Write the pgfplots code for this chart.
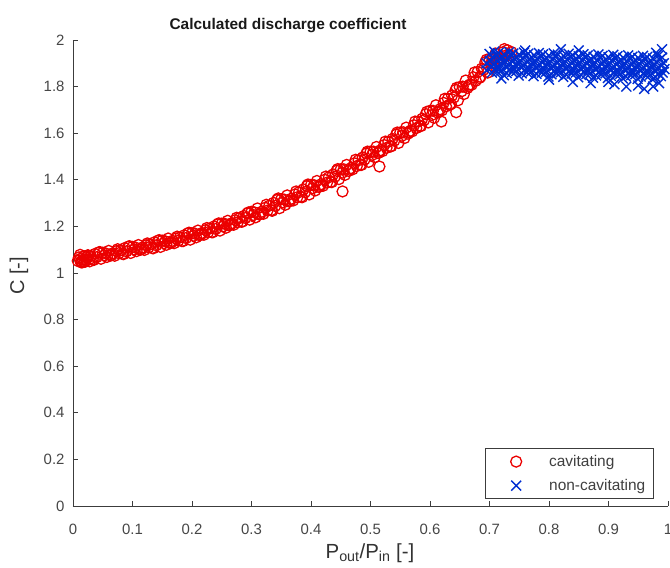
\documentclass[border=0pt]{standalone}
\usepackage{fontspec}
\setmainfont{Liberation Sans}
\usepackage{pgfplots}
\pgfplotsset{compat=1.18}
\definecolor{mred}{RGB}{235,0,0}
\definecolor{mblue}{RGB}{0,45,210}
\definecolor{axgray}{RGB}{60,60,60}
\definecolor{tickgray}{RGB}{70,70,70}
\begin{document}
\begin{tikzpicture}
\begin{axis}[
  at={(0,0)}, anchor=south west,
  scale only axis, width=595bp, height=466bp,
  xmin=0, xmax=1, ymin=0, ymax=2,
  axis x line*=bottom, axis y line*=left,
  axis line style={draw=axgray, line width=0.9bp, -},
  xtick={0,0.1,0.2,0.3,0.4,0.5,0.6,0.7,0.8,0.9,1},
  ytick={0,0.2,0.4,0.6,0.8,1,1.2,1.4,1.6,1.8,2},
  tick style={draw=axgray, line width=0.8bp},
  major tick length=5bp, tick align=inside,
  /pgf/number format/assume math mode=true,
  ticklabel style={font=\fontsize{15}{18}\selectfont, text=tickgray},
  xticklabel style={yshift=-15bp},
  yticklabel style={xshift=-5bp},
  legend style={at={(0.976,0.015)}, anchor=south east, draw=axgray, line width=0.8bp,
    inner xsep=8bp, inner ysep=1bp, row sep=0pt,
    font=\fontsize{15.5}{18}\selectfont, text=black!75, nodes={inner sep=0pt}},
  legend cell align=left,
  legend image code/.code={\path[draw=none,fill=none] (0bp,-12bp) rectangle (56bp,12bp); \draw[#1] plot coordinates {(23bp,0bp)};},
]
\addplot[only marks, mark=o, mark size=5.5bp, color=mred, mark options={line width=1.3bp}]
coordinates {
(0.008,1.052)(0.012,1.060)(0.015,1.045)(0.018,1.072)(0.022,1.055)(0.025,1.075)(0.028,1.050)(0.012,1.078)
(0.010,1.067)(0.013,1.047)(0.017,1.057)
(0.020,1.048)(0.023,1.068)(0.027,1.059)
(0.030,1.073)(0.033,1.057)(0.037,1.082)
(0.040,1.068)(0.043,1.088)(0.047,1.061)
(0.050,1.087)(0.053,1.076)(0.057,1.069)
(0.060,1.095)(0.063,1.075)(0.067,1.085)
(0.070,1.074)(0.073,1.094)(0.077,1.085)
(0.080,1.098)(0.083,1.082)(0.087,1.107)
(0.090,1.093)(0.093,1.113)(0.097,1.086)
(0.100,1.112)(0.103,1.101)(0.107,1.094)
(0.110,1.120)(0.113,1.100)(0.117,1.110)
(0.120,1.099)(0.123,1.119)(0.127,1.110)
(0.130,1.123)(0.133,1.107)(0.137,1.132)
(0.140,1.119)(0.143,1.139)(0.147,1.112)
(0.150,1.139)(0.153,1.128)(0.157,1.121)
(0.160,1.148)(0.163,1.128)(0.167,1.138)
(0.170,1.128)(0.173,1.148)(0.177,1.139)
(0.180,1.153)(0.183,1.137)(0.187,1.162)
(0.190,1.150)(0.193,1.170)(0.197,1.143)
(0.200,1.171)(0.203,1.160)(0.207,1.153)
(0.210,1.182)(0.213,1.162)(0.217,1.172)
(0.220,1.164)(0.223,1.184)(0.227,1.175)
(0.230,1.191)(0.233,1.175)(0.237,1.200)
(0.240,1.189)(0.243,1.209)(0.247,1.182)
(0.250,1.212)(0.253,1.201)(0.257,1.194)
(0.260,1.224)(0.263,1.204)(0.267,1.214)
(0.270,1.207)(0.273,1.227)(0.277,1.218)
(0.280,1.236)(0.283,1.220)(0.287,1.245)
(0.290,1.236)(0.293,1.256)(0.297,1.229)
(0.300,1.263)(0.303,1.249)(0.307,1.239)
(0.310,1.277)(0.313,1.251)(0.317,1.263)
(0.320,1.254)(0.323,1.280)(0.327,1.268)
(0.330,1.289)(0.333,1.269)(0.337,1.301)
(0.340,1.288)(0.343,1.314)(0.347,1.278)
(0.350,1.317)(0.353,1.303)(0.357,1.293)
(0.360,1.333)(0.363,1.307)(0.367,1.319)
(0.370,1.311)(0.373,1.337)(0.377,1.325)
(0.380,1.347)(0.383,1.327)(0.387,1.359)
(0.390,1.347)(0.393,1.373)(0.397,1.337)
(0.400,1.378)(0.403,1.364)(0.407,1.354)
(0.410,1.395)(0.413,1.369)(0.417,1.381)
(0.420,1.374)(0.423,1.400)(0.427,1.388)
(0.430,1.411)(0.433,1.391)(0.437,1.423)
(0.440,1.413)(0.443,1.439)(0.447,1.403)
(0.450,1.445)(0.453,1.431)(0.457,1.421)
(0.460,1.464)(0.463,1.438)(0.467,1.450)
(0.470,1.445)(0.473,1.471)(0.477,1.459)
(0.480,1.484)(0.483,1.464)(0.487,1.496)
(0.490,1.487)(0.493,1.513)(0.497,1.477)
(0.500,1.521)(0.503,1.507)(0.507,1.497)
(0.510,1.541)(0.513,1.515)(0.517,1.527)
(0.520,1.523)(0.523,1.549)(0.527,1.537)
(0.530,1.563)(0.533,1.543)(0.537,1.575)
(0.540,1.568)(0.543,1.594)(0.547,1.558)
(0.550,1.603)(0.553,1.589)(0.557,1.579)
(0.560,1.624)(0.563,1.598)(0.567,1.610)
(0.570,1.608)(0.573,1.634)(0.577,1.622)
(0.580,1.650)(0.583,1.630)(0.587,1.662)
(0.590,1.656)(0.593,1.682)(0.597,1.646)
(0.600,1.696)(0.603,1.678)(0.607,1.666)
(0.610,1.720)(0.613,1.688)(0.617,1.703)
(0.620,1.698)(0.623,1.730)(0.627,1.715)
(0.630,1.748)(0.633,1.722)(0.637,1.762)
(0.640,1.753)(0.643,1.786)(0.647,1.741)
(0.650,1.798)(0.653,1.780)(0.657,1.768)
(0.660,1.826)(0.663,1.794)(0.667,1.809)
(0.670,1.808)(0.673,1.840)(0.677,1.825)
(0.680,1.863)(0.683,1.837)(0.687,1.877)
(0.690,1.872)(0.693,1.905)(0.697,1.860)
(0.700,1.918)(0.703,1.900)(0.707,1.888)
(0.710,1.942)(0.713,1.910)(0.717,1.925)
(0.720,1.916)(0.723,1.948)(0.727,1.933)
(0.730,1.956)(0.733,1.935)(0.737,1.948)
(0.015,1.050)(0.025,1.076)(0.035,1.056)(0.045,1.090)(0.055,1.084)
(0.065,1.077)(0.075,1.102)(0.085,1.081)(0.095,1.115)(0.105,1.109)
(0.115,1.102)(0.125,1.127)(0.135,1.106)(0.145,1.141)(0.155,1.136)
(0.165,1.130)(0.175,1.156)(0.185,1.137)(0.195,1.173)(0.205,1.169)
(0.215,1.165)(0.225,1.193)(0.235,1.175)(0.245,1.213)(0.255,1.211)
(0.265,1.208)(0.275,1.237)(0.285,1.221)(0.295,1.260)(0.305,1.260)
(0.315,1.254)(0.325,1.293)(0.335,1.267)(0.345,1.320)(0.355,1.315)
(0.365,1.310)(0.375,1.350)(0.385,1.325)(0.395,1.380)(0.405,1.377)
(0.415,1.373)(0.425,1.414)(0.435,1.390)(0.445,1.446)(0.455,1.445)
(0.465,1.443)(0.475,1.486)(0.485,1.464)(0.495,1.521)(0.505,1.521)
(0.515,1.520)(0.525,1.564)(0.535,1.544)(0.545,1.603)(0.555,1.604)
(0.565,1.604)(0.575,1.650)(0.585,1.631)(0.595,1.692)(0.605,1.696)
(0.615,1.694)(0.625,1.748)(0.635,1.725)(0.645,1.795)(0.655,1.800)
(0.665,1.802)(0.675,1.861)(0.685,1.842)(0.695,1.915)(0.705,1.918)
(0.715,1.914)(0.725,1.961)
(0.453,1.350)(0.515,1.457)(0.619,1.650)(0.644,1.690)
};
\addlegendentry{cavitating}
\addplot[only marks, mark=x, mark size=7bp, color=mblue, mark options={line width=1.4bp}]
coordinates {
(0.695,1.870)(0.695,1.900)(0.720,1.835)
(0.700,1.940)(0.701,1.910)(0.703,1.885)(0.704,1.860)
(0.705,1.925)(0.706,1.895)(0.708,1.950)(0.709,1.875)
(0.710,1.899)(0.711,1.934)(0.713,1.864)(0.714,1.914)
(0.715,1.944)(0.716,1.879)(0.718,1.919)(0.719,1.894)
(0.720,1.869)(0.721,1.929)(0.723,1.904)(0.724,1.849)
(0.725,1.938)(0.726,1.908)(0.728,1.883)(0.729,1.858)
(0.730,1.923)(0.731,1.893)(0.733,1.948)(0.734,1.873)
(0.735,1.898)(0.736,1.933)(0.738,1.863)(0.739,1.913)
(0.740,1.942)(0.741,1.877)(0.743,1.917)(0.744,1.892)
(0.745,1.867)(0.746,1.927)(0.748,1.902)(0.749,1.847)
(0.750,1.937)(0.751,1.907)(0.753,1.882)(0.754,1.857)
(0.755,1.921)(0.756,1.891)(0.758,1.946)(0.759,1.871)
(0.760,1.896)(0.761,1.931)(0.763,1.861)(0.764,1.911)
(0.765,1.941)(0.766,1.876)(0.768,1.916)(0.769,1.891)
(0.770,1.865)(0.771,1.925)(0.773,1.900)(0.774,1.845)
(0.775,1.935)(0.776,1.905)(0.778,1.880)(0.779,1.855)
(0.780,1.919)(0.781,1.889)(0.783,1.944)(0.784,1.869)
(0.785,1.894)(0.786,1.929)(0.788,1.859)(0.789,1.909)
(0.790,1.939)(0.791,1.874)(0.793,1.914)(0.794,1.889)
(0.795,1.863)(0.796,1.923)(0.798,1.898)(0.799,1.843)
(0.800,1.933)(0.801,1.903)(0.803,1.878)(0.804,1.853)
(0.805,1.918)(0.806,1.888)(0.808,1.943)(0.809,1.868)
(0.810,1.892)(0.811,1.927)(0.813,1.857)(0.814,1.907)
(0.815,1.937)(0.816,1.872)(0.818,1.912)(0.819,1.887)
(0.820,1.862)(0.821,1.922)(0.823,1.897)(0.824,1.842)
(0.825,1.931)(0.826,1.901)(0.828,1.876)(0.829,1.851)
(0.830,1.916)(0.831,1.886)(0.833,1.941)(0.834,1.866)
(0.835,1.891)(0.836,1.926)(0.838,1.856)(0.839,1.906)
(0.840,1.935)(0.841,1.870)(0.843,1.910)(0.844,1.885)
(0.845,1.860)(0.846,1.920)(0.848,1.895)(0.849,1.840)
(0.850,1.930)(0.851,1.900)(0.853,1.875)(0.854,1.850)
(0.855,1.914)(0.856,1.884)(0.858,1.939)(0.859,1.864)
(0.860,1.889)(0.861,1.924)(0.863,1.854)(0.864,1.904)
(0.865,1.934)(0.866,1.869)(0.868,1.909)(0.869,1.884)
(0.870,1.858)(0.871,1.918)(0.873,1.893)(0.874,1.838)
(0.875,1.928)(0.876,1.898)(0.878,1.873)(0.879,1.848)
(0.880,1.913)(0.881,1.883)(0.883,1.938)(0.884,1.863)
(0.885,1.887)(0.886,1.922)(0.888,1.852)(0.889,1.902)
(0.890,1.932)(0.891,1.867)(0.893,1.907)(0.894,1.882)
(0.895,1.857)(0.896,1.917)(0.898,1.892)(0.899,1.837)
(0.900,1.926)(0.901,1.896)(0.903,1.871)(0.904,1.846)
(0.905,1.911)(0.906,1.881)(0.908,1.936)(0.909,1.861)
(0.910,1.885)(0.911,1.920)(0.913,1.850)(0.914,1.900)
(0.915,1.930)(0.916,1.865)(0.918,1.905)(0.919,1.880)
(0.920,1.855)(0.921,1.915)(0.923,1.890)(0.924,1.835)
(0.925,1.924)(0.926,1.894)(0.928,1.869)(0.929,1.844)
(0.930,1.909)(0.931,1.879)(0.933,1.934)(0.934,1.859)
(0.935,1.884)(0.936,1.919)(0.938,1.849)(0.939,1.899)
(0.940,1.928)(0.941,1.863)(0.943,1.903)(0.944,1.878)
(0.945,1.853)(0.946,1.913)(0.948,1.888)(0.949,1.833)
(0.950,1.923)(0.951,1.893)(0.953,1.868)(0.954,1.843)
(0.955,1.907)(0.956,1.877)(0.958,1.932)(0.959,1.857)
(0.960,1.882)(0.961,1.917)(0.963,1.847)(0.964,1.897)
(0.965,1.927)(0.966,1.862)(0.968,1.902)(0.969,1.877)
(0.970,1.851)(0.971,1.911)(0.973,1.886)(0.974,1.831)
(0.975,1.921)(0.976,1.891)(0.978,1.866)(0.979,1.841)
(0.980,1.906)(0.981,1.876)(0.983,1.931)(0.984,1.856)
(0.985,1.880)(0.986,1.915)(0.988,1.845)(0.989,1.895)
(0.990,1.925)(0.991,1.860)(0.993,1.900)(0.994,1.875)
(0.930,1.800)(0.960,1.790)(0.975,1.800)(0.985,1.815)(0.910,1.810)(0.870,1.815)
(0.840,1.820)(0.950,1.805)(0.900,1.820)(0.800,1.830)
(0.760,1.955)(0.820,1.960)(0.850,1.955)(0.990,1.960)(0.980,1.945)
};
\addlegendentry{non-cavitating}
\end{axis}
\node[anchor=base, font=\bfseries\fontsize{15.5}{18}\selectfont, text=black!90] at (215bp,476bp) {Calculated discharge coefficient};
\node[anchor=base, font=\fontsize{20.5}{24}\selectfont, text=black!80] at (297bp,-52bp) {P\textsubscript{out}/P\textsubscript{in} [-]};
\node[rotate=90, anchor=center, font=\fontsize{20}{24}\selectfont, text=black!80] at (-54bp,230bp) {C [-]};
\pgfresetboundingbox
\path[use as bounding box] (-73bp,-62bp) rectangle (597bp,506bp);
\end{tikzpicture}
\end{document}
